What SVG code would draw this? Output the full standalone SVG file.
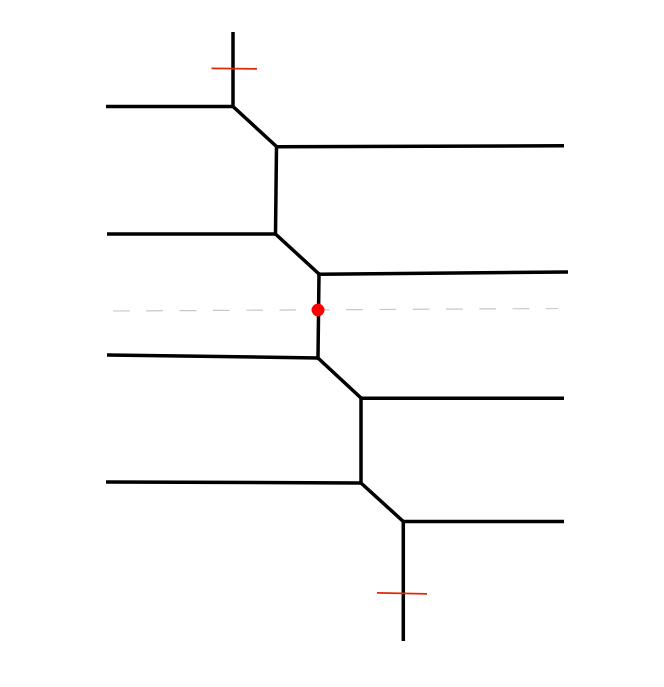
<svg xmlns="http://www.w3.org/2000/svg" width="664" height="687" viewBox="0 0 664 687">
<style>.b{fill:none;stroke:#000;stroke-width:3.500;stroke-linejoin:miter}.r{fill:none;stroke:#e0280c;stroke-width:1.800}.d{fill:none;stroke:#c8c8c8;stroke-width:1.200;stroke-dasharray:16.700 16.600}</style>
<rect width="664" height="687" fill="#fff"/>
<g id="axis"><path class="d" d="M113 311L558 308.500"/></g>
<g id="connectors">
<path class="b" d="M233 32V106.500L276.500 146.500L275.500 234L319 274L318 358L361 398V483L403.300 521.500V641"/>
<path class="b" d="M106 106.500H233"/>
<path class="b" d="M276.500 146.700L564 145.700"/>
<path class="b" d="M107 234H275.500"/>
<path class="b" d="M319 274.200L568 272"/>
<path class="b" d="M107 355L318 358"/>
<path class="b" d="M361 398.200H564"/>
<path class="b" d="M106 482L361 483"/>
<path class="b" d="M403.300 521.500H564"/>
</g>
<g id="tick-top"><path class="r" d="M211.500 68.300L257 68.800"/></g>
<g id="tick-bottom"><path class="r" d="M377 592.800L427 593.800"/></g>
<g id="center-point"><circle cx="318" cy="310" r="6.500" fill="#f00"/></g>
</svg>
